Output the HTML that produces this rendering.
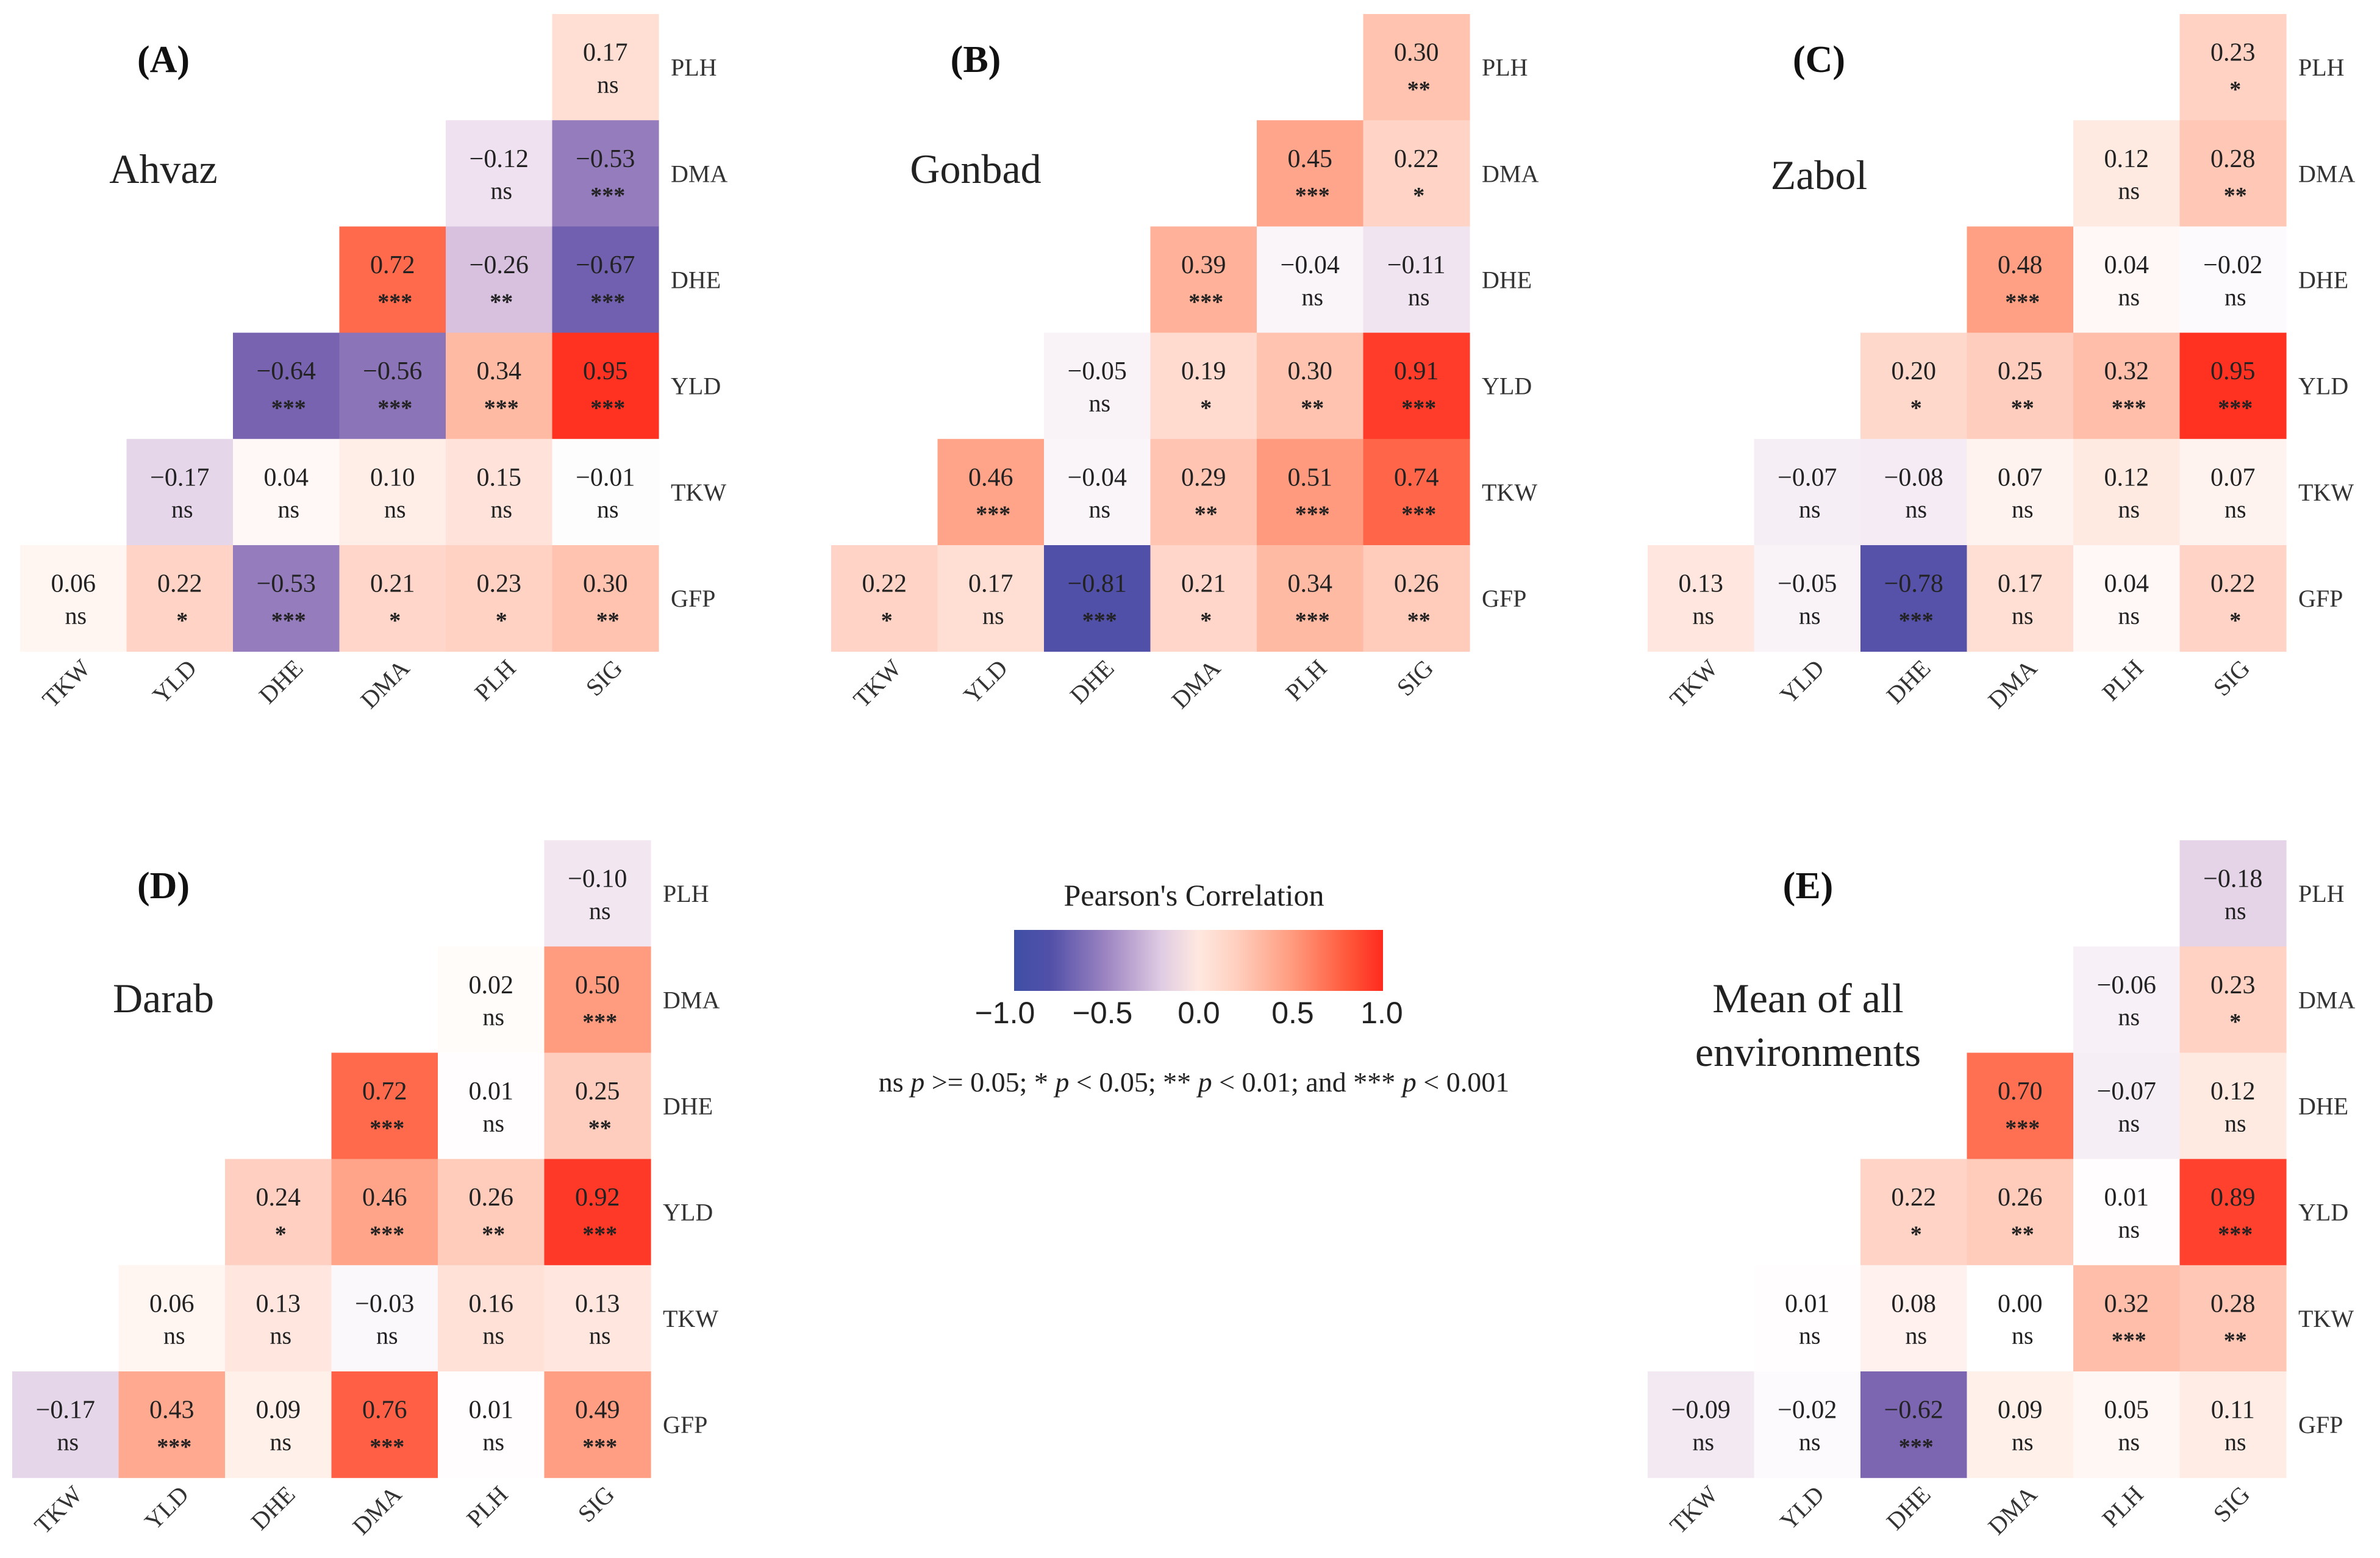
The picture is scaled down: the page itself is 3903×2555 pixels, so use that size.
<!DOCTYPE html>
<html><head><meta charset="utf-8">
<style>
html,body{margin:0;padding:0;background:#fff;}
svg{display:block;font-family:"Liberation Serif",serif;}
</style></head>
<body>
<svg id="chart" width="3903" height="2555" viewBox="0 0 3903 2555" xmlns="http://www.w3.org/2000/svg">
<defs>
<linearGradient id="cbar" x1="0" x2="1" y1="0" y2="0">
<stop offset="0" stop-color="#3f4fa6"/><stop offset="0.1" stop-color="#5250a8"/><stop offset="0.25" stop-color="#9d85c2"/><stop offset="0.4" stop-color="#e0cce3"/><stop offset="0.5" stop-color="#ffe8e0"/><stop offset="0.6" stop-color="#ffd0c0"/><stop offset="0.75" stop-color="#ff9c80"/><stop offset="0.9" stop-color="#ff5a3c"/><stop offset="1" stop-color="#ff2a1e"/>
</linearGradient>
</defs>
<g>
<text x="1958" y="1485" font-size="50" text-anchor="middle" fill="#222">Pearson's Correlation</text>
<rect x="1663" y="1525" width="605" height="100" fill="url(#cbar)"/>
<g font-family="Liberation Sans, sans-serif" font-size="50" fill="#222" text-anchor="middle">
<text x="1648" y="1678">−1.0</text>
<text x="1808" y="1678">−0.5</text>
<text x="1966" y="1678">0.0</text>
<text x="2120" y="1678">0.5</text>
<text x="2266" y="1678">1.0</text>
</g>
<text x="1958" y="1790" font-size="46" text-anchor="middle" fill="#222">ns <tspan font-style="italic">p</tspan> &gt;= 0.05; * <tspan font-style="italic">p</tspan> &lt; 0.05; ** <tspan font-style="italic">p</tspan> &lt; 0.01; and *** <tspan font-style="italic">p</tspan> &lt; 0.001</text>
</g>
</svg>
<script>
const cols = ["TKW","YLD","DHE","DMA","PLH","SIG"];
const rows = ["PLH","DMA","DHE","YLD","TKW","GFP"];
const valsA = [[0.17],[-0.12,-0.53],[0.72,-0.26,-0.67],[-0.64,-0.56,0.34,0.95],[-0.17,0.04,0.10,0.15,-0.01],[0.06,0.22,-0.53,0.21,0.23,0.30]];
const sigA = [["ns"],["ns","***"],["***","**","***"],["***","***","***","***"],["ns","ns","ns","ns","ns"],["ns","*","***","*","*","**"]];
const valsB = [[0.30],[0.45,0.22],[0.39,-0.04,-0.11],[-0.05,0.19,0.30,0.91],[0.46,-0.04,0.29,0.51,0.74],[0.22,0.17,-0.81,0.21,0.34,0.26]];
const sigB = [["**"],["***","*"],["***","ns","ns"],["ns","*","**","***"],["***","ns","**","***","***"],["*","ns","***","*","***","**"]];
const valsC = [[0.23],[0.12,0.28],[0.48,0.04,-0.02],[0.20,0.25,0.32,0.95],[-0.07,-0.08,0.07,0.12,0.07],[0.13,-0.05,-0.78,0.17,0.04,0.22]];
const sigC = [["*"],["ns","**"],["***","ns","ns"],["*","**","***","***"],["ns","ns","ns","ns","ns"],["ns","ns","***","ns","ns","*"]];
const valsD = [[-0.10],[0.02,0.50],[0.72,0.01,0.25],[0.24,0.46,0.26,0.92],[0.06,0.13,-0.03,0.16,0.13],[-0.17,0.43,0.09,0.76,0.01,0.49]];
const sigD = [["ns"],["ns","***"],["***","ns","**"],["*","***","**","***"],["ns","ns","ns","ns","ns"],["ns","***","ns","***","ns","***"]];
const valsE = [[-0.18],[-0.06,0.23],[0.70,-0.07,0.12],[0.22,0.26,0.01,0.89],[0.01,0.08,0.00,0.32,0.28],[-0.09,-0.02,-0.62,0.09,0.05,0.11]];
const sigE = [["ns"],["ns","*"],["***","ns","ns"],["*","**","ns","***"],["ns","ns","ns","***","**"],["ns","ns","***","ns","ns","ns"]];

const NS="http://www.w3.org/2000/svg";
const svg=document.getElementById('chart');
const stops=[[-1,[63,79,166]],[-0.8,[82,80,168]],[-0.6,[129,104,178]],[-0.5,[157,133,194]],[-0.25,[217,195,223]],[-0.1,[242,230,241]],[0,[255,255,255]],[0.1,[255,238,232]],[0.2,[255,216,204]],[0.34,[255,186,164]],[0.5,[255,156,128]],[0.72,[255,106,76]],[0.95,[255,50,34]],[1,[255,42,30]]];
function color(v){
  for(let i=0;i<stops.length-1;i++){
    const a=stops[i],b=stops[i+1];
    if(v>=a[0]&&v<=b[0]){const t=(v-a[0])/(b[0]-a[0]);
      const c=a[1].map((x,k)=>Math.round(x+(b[1][k]-x)*t));return `rgb(${c.join(',')})`;}
  }
  return v<0?'rgb(63,79,166)':'rgb(255,42,30)';
}
function fmt(v){const s=Math.abs(v).toFixed(2);return (v<0?'−':'')+s;}
function mk(tag,attrs,parent){const e=document.createElementNS(NS,tag);for(const k in attrs)e.setAttribute(k,attrs[k]);parent.appendChild(e);return e;}

const panels=[
 {id:'a',vals:valsA,sig:sigA,x0:33,y0:23,letter:'(A)',lx:268,ly:118,names:['Ahvaz'],ny:[300]},
 {id:'b',vals:valsB,sig:sigB,x0:1363,y0:23,letter:'(B)',lx:1600,ly:118,names:['Gonbad'],ny:[300]},
 {id:'c',vals:valsC,sig:sigC,x0:2702,y0:23,letter:'(C)',lx:2983,ly:118,names:['Zabol'],ny:[310]},
 {id:'d',vals:valsD,sig:sigD,x0:20,y0:1378,letter:'(D)',lx:268,ly:1473,names:['Darab'],ny:[1660]},
 {id:'e',vals:valsE,sig:sigE,x0:2702,y0:1378,letter:'(E)',lx:2965,ly:1473,names:['Mean of all','environments'],ny:[1660,1748]}
];
const cw=174.5, ch=174.2;
panels.forEach(p=>{
  const g=mk('g',{},svg);
  
  
  const t=mk('text',{x:p.lx,y:p.ly,'font-size':62,'font-weight':'bold','text-anchor':'middle',fill:'#111'},g);
  t.textContent=p.letter;
  
  
  p.names.forEach((n,i)=>{
    const tn=mk('text',{x:p.lx,y:p.ny[i],'font-size':68,'text-anchor':'middle',fill:'#222'},g);
    tn.textContent=n;
    
    
  });
  p.vals.forEach((row,r)=>{
    const start=cols.length-row.length;
    row.forEach((v,k)=>{
      const c=start+k;
      const x=p.x0+c*cw, y=p.y0+r*ch;
      const rc=mk('rect',{x:x,y:y,width:cw+0.6,height:ch+0.6,fill:color(v)},g);
      
      
      const tv=mk('text',{x:x+cw/2,y:y+ch*0.44,'font-size':42,'text-anchor':'middle',fill:'#222'},g);
      tv.textContent=fmt(v);
      
      
      const s=p.sig[r][k];
      const ts=mk('text',{x:x+cw/2+4,y:s==='ns'?y+ch*0.74:y+ch*0.78,'font-size':s==='ns'?40:38,'text-anchor':'middle',fill:'#222','font-weight':s==='ns'?'normal':'bold'},g);
      ts.textContent=s;
      
      
    });
  });
  rows.forEach((rn,r)=>{
    const tl=mk('text',{x:p.x0+6*cw+20,y:p.y0+r*ch+ch/2+14,'font-size':40,fill:'#333'},g);
    tl.textContent=rn;
    
    
  });
  cols.forEach((cn,c)=>{
    const cx=p.x0+c*cw+cw/2+30, cy=p.y0+6*ch+30;
    const tc=mk('text',{x:cx,y:cy,'font-size':40,fill:'#333','text-anchor':'end',transform:`rotate(-45 ${cx} ${cy})`},g);
    tc.textContent=cn;
    
    
  });
});
</script>
</body></html>
